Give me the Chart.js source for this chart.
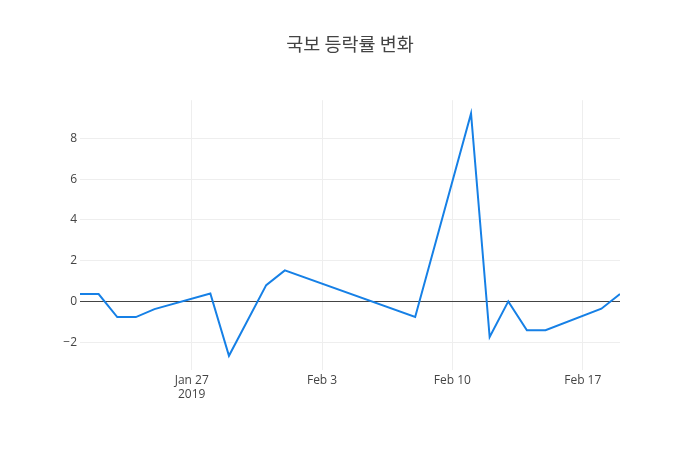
<!DOCTYPE html>
<html>
<head>
<meta charset="utf-8">
<script src="https://cdn.jsdelivr.net/npm/chart.js@4"></script>
<style>
html,body{margin:0;padding:0;background:#fff;}
#wrap{width:700px;height:450px;}
</style>
</head>
<body>
<div id="wrap"><canvas id="c" width="700" height="450"></canvas></div>
<script>
// day index: 0 = Jan 21 2019
const days = [0, 1, 2, 3, 4, 7, 8, 10, 11, 18, 21, 22, 23, 24, 25, 28, 29];
const changes = [0.36, 0.36, -0.77, -0.77, -0.38, 0.39, -2.67, 0.80, 1.52, -0.77, 9.23, -1.75, 0, -1.42, -1.42, -0.36, 0.36];
const tickDays = [6, 13, 20, 27];
const tickLabels = [['Jan 27', '2019'], 'Feb 3', 'Feb 10', 'Feb 17'];
const yTicks = [-2, 0, 2, 4, 6, 8];

const pts = days.map((d, i) => ({x: d, y: changes[i]}));
const font = "'Open Sans', 'Noto Sans', sans-serif";

new Chart(document.getElementById('c'), {
  type: 'line',
  data: {datasets: [{data: pts, borderColor: 'rgb(22,128,230)', borderWidth: 2, pointRadius: 0, tension: 0, fill: false}]},
  options: {
    responsive: false,
    animation: false,
    layout: {padding: 0},
    plugins: {
      legend: {display: false},
      tooltip: {enabled: false},
      title: {
        display: true,
        text: '국보 등락률 변화',
        color: '#444',
        font: {family: "'Noto Sans CJK KR', sans-serif", size: 18.5, weight: 'normal'},
        padding: {top: 33, bottom: 45}
      }
    },
    scales: {
      x: {
        type: 'linear',
        min: 0, max: 29,
        afterBuildTicks: s => { s.ticks = tickDays.map(v => ({value: v})); },
        afterFit: s => { s.height = 80; },
        ticks: {
          color: '#444', font: {family: font, size: 12}, padding: 3, maxRotation: 0,
          callback: (v) => { const i = tickDays.indexOf(v); return i >= 0 ? tickLabels[i] : ''; }
        },
        grid: {color: '#eee', drawTicks: false},
        border: {display: false}
      },
      y: {
        min: -3.37, max: 9.88,
        afterBuildTicks: s => { s.ticks = yTicks.map(v => ({value: v})); },
        afterFit: s => { s.width = 80; },
        ticks: {
          color: '#444', font: {family: font, size: 12}, padding: 3,
          callback: v => (v < 0 ? '\u2212' + Math.abs(v) : String(v))
        },
        grid: {color: c => (c.tick && c.tick.value === 0 ? '#444' : '#eee'), drawTicks: false},
        border: {display: false}
      },
      // empty right margin so the title stays centred on the page
      yRight: {
        position: 'right',
        ticks: {display: false},
        grid: {display: false},
        border: {display: false},
        afterFit: s => { s.width = 80; }
      }
    }
  }
});
</script>
</body>
</html>
